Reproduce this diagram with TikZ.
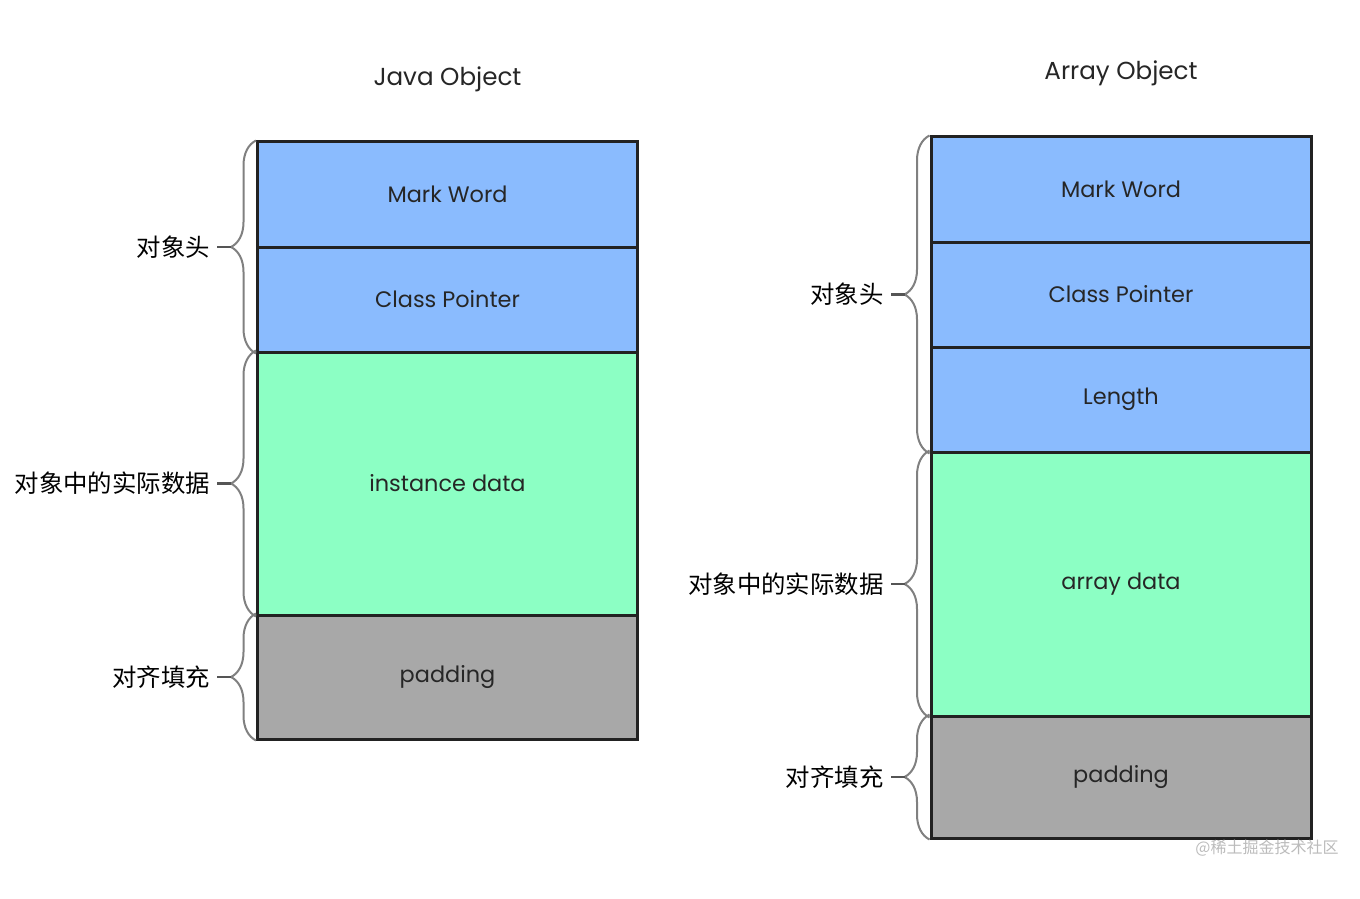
\documentclass[tikz,border=0pt]{standalone}
\usepackage{fontspec}
\setmainfont{Poppins}
\newfontfamily\cjk{Noto Sans CJK SC}
\usepackage{tikz}
\usetikzlibrary{positioning,decorations.pathreplacing}
\definecolor{headblue}{HTML}{8ABBFE}
\definecolor{datagreen}{HTML}{8CFFC4}
\definecolor{padgray}{HTML}{A8A8A8}
\definecolor{edgedark}{HTML}{222222}
\definecolor{bracegray}{HTML}{808080}
\definecolor{stubgray}{HTML}{555555}
\definecolor{inkgray}{HTML}{262626}
\definecolor{markgray}{HTML}{BBBBBB}
\tikzset{
  field/.style={draw=edgedark, line width=1.5pt, minimum width=190pt, inner sep=0pt, text=inkgray, font=\fontsize{11.2}{13}\selectfont},
  header/.style={field, fill=headblue, minimum height=52.5pt},
  payload/.style={field, fill=datagreen},
  filler/.style={field, fill=padgray},
  caption/.style={text=inkgray, font=\fontsize{12.3}{15}\selectfont},
  part/.style={decorate, decoration={brace, amplitude=12.5pt}, draw=bracegray, line width=1pt},
  stub/.style={draw=stubgray, line width=1.1pt},
  partlabel/.style={left=3pt, inner sep=0pt, text=black, font=\cjk\fontsize{12.2}{14}\selectfont}
}

\begin{document}
\begin{tikzpicture}[x=0.5pt, y=-0.5pt]
  \useasboundingbox (0,0) rectangle (1360,899);

  \node[caption] (jtitle) at (447.5,79) {Java Object};
  \node[caption] (atitle) at (1121,73) {Array Object};

  \node[header] (jmark) at (447.5,194.5) {Mark Word};
  \node[header] (jclass) at (447.5,299.5) {Class Pointer};
  \node[payload, minimum height=131.5pt] (jdata) at (447.5,483.5) {instance data};
  \node[filler, minimum height=62pt] (jpad) at (447.5,677) {padding};

  \node[header] (amark) at (1121,189.5) {Mark Word};
  \node[header] (aclass) at (1121,294.5) {Class Pointer};
  \node[header] (alen) at (1121,399.5) {Length};
  \node[payload, minimum height=132pt] (adata) at (1121,584) {array data};
  \node[filler, minimum height=61pt] (apad) at (1121,777) {padding};

  \draw[part] (jclass.south west) -- (jmark.north west) coordinate[midway, xshift=-12.5pt] (jhead);
  \draw[part] (jdata.south west) -- (jdata.north west) coordinate[midway, xshift=-12.5pt] (jbody);
  \draw[part] (jpad.south west) -- (jpad.north west) coordinate[midway, xshift=-12.5pt] (jfill);
  \draw[stub] (jhead) -- ++(-14,0) node[partlabel] {对象头};
  \draw[stub] (jbody) -- ++(-14,0) node[partlabel] {对象中的实际数据};
  \draw[stub] (jfill) -- ++(-14,0) node[partlabel] {对齐填充};

  \draw[part] (alen.south west) -- (amark.north west) coordinate[midway, xshift=-12.5pt] (ahead);
  \draw[part] (adata.south west) -- (adata.north west) coordinate[midway, xshift=-12.5pt] (abody);
  \draw[part] (apad.south west) -- (apad.north west) coordinate[midway, xshift=-12.5pt] (afill);
  \draw[stub] (ahead) -- ++(-14,0) node[partlabel] {对象头};
  \draw[stub] (abody) -- ++(-14,0) node[partlabel] {对象中的实际数据};
  \draw[stub] (afill) -- ++(-14,0) node[partlabel] {对齐填充};

  \node[text=markgray, font=\cjk\fontsize{8}{10}\selectfont] (mark) at (1267,848) {@稀土掘金技术社区};
\end{tikzpicture}
\end{document}
